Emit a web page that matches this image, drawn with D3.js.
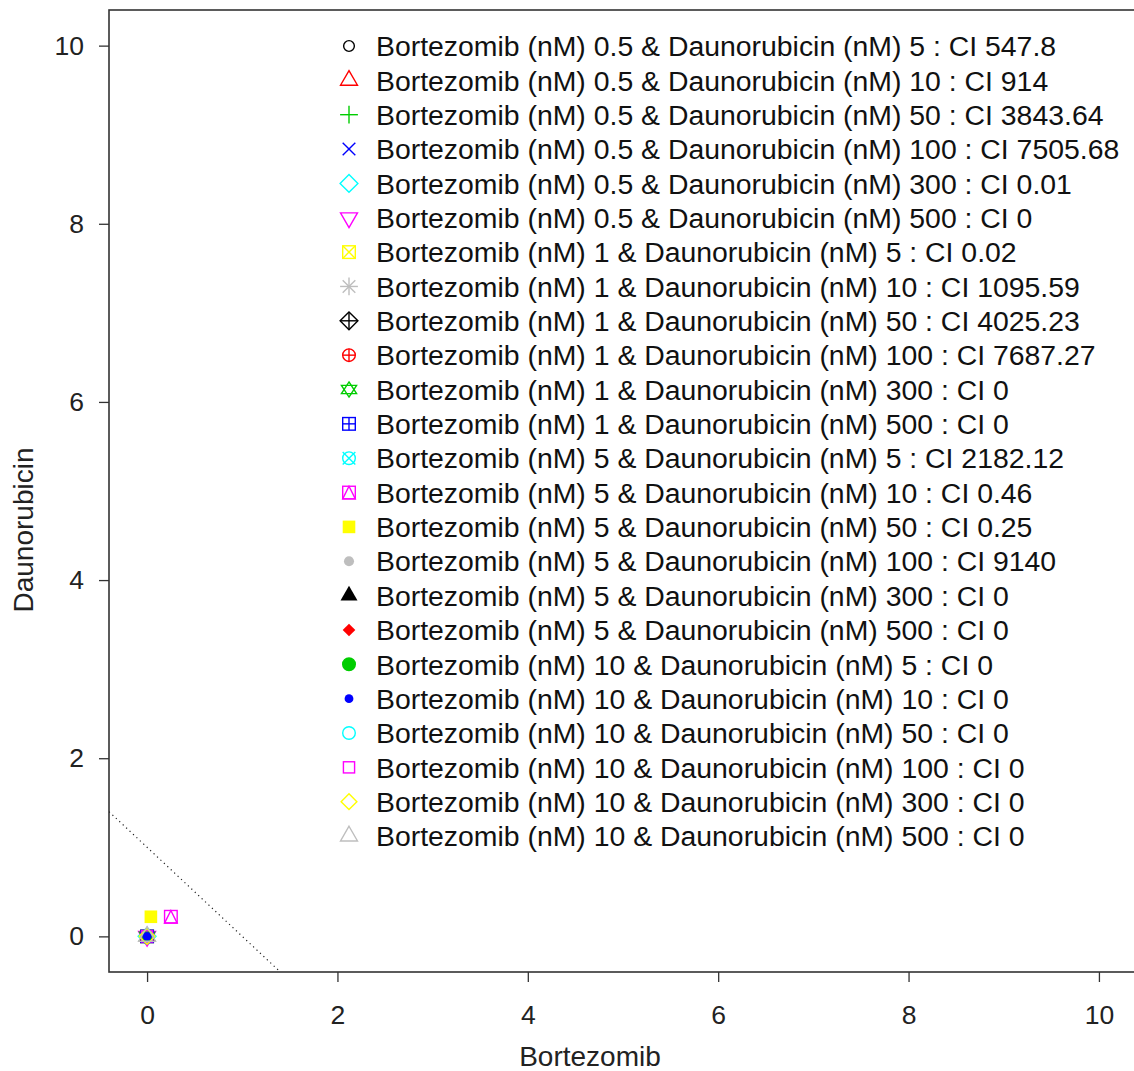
<!DOCTYPE html>
<html><head><meta charset="utf-8">
<script src="https://cdn.jsdelivr.net/npm/d3@7"></script>
<style>body{margin:0;background:#fff;} svg{display:block;font-family:"Liberation Sans",Arial,sans-serif;}</style>
</head><body>
<svg id="c" width="1134" height="1071"></svg>
<script>
// ---- data ----
const bortezomib = [0.5,0.5,0.5,0.5,0.5,0.5, 1,1,1,1,1,1, 5,5,5,5,5,5, 10,10,10,10,10,10];
const daunorubicin = [5,10,50,100,300,500, 5,10,50,100,300,500, 5,10,50,100,300,500, 5,10,50,100,300,500];
const ciValues = ["547.8","914","3843.64","7505.68","0.01","0", "0.02","1095.59","4025.23","7687.27","0","0",
                  "2182.12","0.46","0.25","9140","0","0", "0","0","0","0","0","0"];
// normalised dose positions (null = outside the visible area)
const xNorm = [null,null,null,null,0,0, 0,null,null,null,0,0, null,0.25,0.04,null,0,0, 0,0,0,0,0,0];
const yNorm = [null,null,null,null,0,0, 0,null,null,null,0,0, null,0.22,0.22,null,0,0, 0,0,0,0,0,0];
const pchs = d3.range(1,25);
const palette = ["#000000","#FF0000","#00CD00","#0000FF","#00FFFF","#FF00FF","#FFFF00","#BEBEBE"];
const xTicks = [0,2,4,6,8,10];
const yTicks = [0,2,4,6,8,10];
const additivityLine = [[-0.4,1.4],[1.4,-0.4]];

const data = bortezomib.map((b,i)=>({b, d:daunorubicin[i], ci:ciValues[i], x:xNorm[i], y:yNorm[i], pch:pchs[i], col:palette[i%8]}));

// ---- layout ----
const svg = d3.select("#c");
const L=109, R=1137, T=10, B=972;
const x = d3.scaleLinear().domain([-0.4,10.4]).range([L,R]);
const y = d3.scaleLinear().domain([-0.4,10.4]).range([B,T]);

svg.append("defs").append("clipPath").attr("id","pc").append("rect")
  .attr("x",L).attr("y",T).attr("width",R-L).attr("height",B-T);

// axes
const xa = svg.append("g").attr("transform",`translate(0,${B})`)
  .call(d3.axisBottom(x).tickValues(xTicks).tickSize(10).tickPadding(23).tickFormat(d3.format("d")));
const ya = svg.append("g").attr("transform",`translate(${L},0)`)
  .call(d3.axisLeft(y).tickValues(yTicks).tickSize(10).tickPadding(15).tickFormat(d3.format("d")));
[xa,ya].forEach(g=>{
  g.select(".domain").remove();
  g.selectAll(".tick line").attr("stroke","#333").attr("stroke-width",1.3);
  g.selectAll(".tick text").attr("font-size",26.5).attr("fill","#222").attr("font-family","Liberation Sans, Arial, sans-serif");
});
xa.selectAll(".tick text").attr("dy","0.71em");

svg.append("rect").attr("x",L).attr("y",T).attr("width",R-L).attr("height",B-T)
  .attr("fill","none").attr("stroke","#333").attr("stroke-width",1.6);

svg.append("text").attr("x",590).attr("y",1066).attr("text-anchor","middle")
  .attr("font-size",28).attr("fill","#222").text("Bortezomib");
svg.append("text").attr("transform","translate(33,530) rotate(-90)").attr("text-anchor","middle")
  .attr("font-size",28).attr("fill","#222").text("Daunorubicin");

// symbol drawing (R pch style)
const r0 = 6.3;
function sym(g, pch, col){
  const r=r0, s2=Math.SQRT2*r;
  const line=(x1,y1,x2,y2)=>g.append("line").attr("x1",x1).attr("y1",y1).attr("x2",x2).attr("y2",y2);
  const poly=(pts)=>g.append("polygon").attr("points",pts.map(p=>p.join(",")).join(" "));
  const circ=(rad)=>g.append("circle").attr("r",rad);
  const sq=(h)=>g.append("rect").attr("x",-h).attr("y",-h).attr("width",2*h).attr("height",2*h);
  const t0=1.5551*r, t1=1.3468*r, t2=0.7776*r;
  const triUp=[[0,-t0],[t1,t2],[-t1,t2]], triDn=[[0,t0],[t1,-t2],[-t1,-t2]];
  g.attr("stroke",col).attr("stroke-width",1.4).attr("fill","none");
  switch(pch){
    case 1: circ(r*0.85); break;
    case 2: poly(triUp); break;
    case 3: line(-s2,0,s2,0); line(0,-s2,0,s2); break;
    case 4: line(-r,-r,r,r); line(-r,r,r,-r); break;
    case 5: poly([[0,-s2],[s2,0],[0,s2],[-s2,0]]); break;
    case 6: poly(triDn); break;
    case 7: sq(r); line(-r,-r,r,r); line(-r,r,r,-r); break;
    case 8: line(-r,-r,r,r); line(-r,r,r,-r); line(-s2,0,s2,0); line(0,-s2,0,s2); break;
    case 9: poly([[0,-s2],[s2,0],[0,s2],[-s2,0]]); line(-s2,0,s2,0); line(0,-s2,0,s2); break;
    case 10: circ(r); line(-r,0,r,0); line(0,-r,0,r); break;
    case 11: { const h=1.2*r, w=1.2*r, k=0.65*r;
      poly([[0,-h],[w,k],[-w,k]]); poly([[0,h],[w,-k],[-w,-k]]); break; }
    case 12: sq(r); line(-r,0,r,0); line(0,-r,0,r); break;
    case 13: circ(r); line(-r,-r,r,r); line(-r,r,r,-r); break;
    case 14: sq(r); poly([[0,-r],[r,r],[-r,r]]); break;
    case 15: sq(r).attr("fill",col).attr("stroke","none"); break;
    case 16: circ(r*0.8).attr("fill",col).attr("stroke","none"); break;
    case 17: poly(triUp).attr("fill",col).attr("stroke","none"); break;
    case 18: poly([[0,-r],[r,0],[0,r],[-r,0]]).attr("fill",col).attr("stroke","none"); break;
    case 19: circ(r).attr("fill",col); break;
    case 20: circ(r*0.7).attr("fill",col).attr("stroke","none"); break;
    case 21: circ(r); break;
    case 22: sq(r*0.886); break;
    case 23: { const d=1.2533*r; poly([[0,-d],[d,0],[0,d],[-d,0]]); break; }
    case 24: poly(triUp); break;
  }
}

// additivity line
svg.append("path").attr("clip-path","url(#pc)")
  .attr("d", d3.line().x(p=>x(p[0])).y(p=>y(p[1]))(additivityLine))
  .attr("stroke","#222").attr("stroke-width",1.2).attr("stroke-dasharray","1.2,3.5").attr("fill","none");

// points
const pg = svg.append("g").attr("clip-path","url(#pc)");
data.filter(d=>d.x!==null).forEach(d=>{
  sym(pg.append("g").attr("transform",`translate(${x(d.x)},${y(d.y)})`), d.pch, d.col);
});

// legend
const legY0 = 46, legDy = 34.35;
const lg = svg.append("g");
data.forEach((d,i)=>{
  const cy = legY0 + i*legDy;
  sym(lg.append("g").attr("transform",`translate(349,${cy})`), d.pch, d.col);
  lg.append("text").attr("x",376).attr("y",cy).attr("dy","0.36em").attr("font-size",28.4).attr("fill","#111")
    .text(`Bortezomib (nM) ${d.b} & Daunorubicin (nM) ${d.d} : CI ${d.ci}`);
});
</script>
</body></html>
